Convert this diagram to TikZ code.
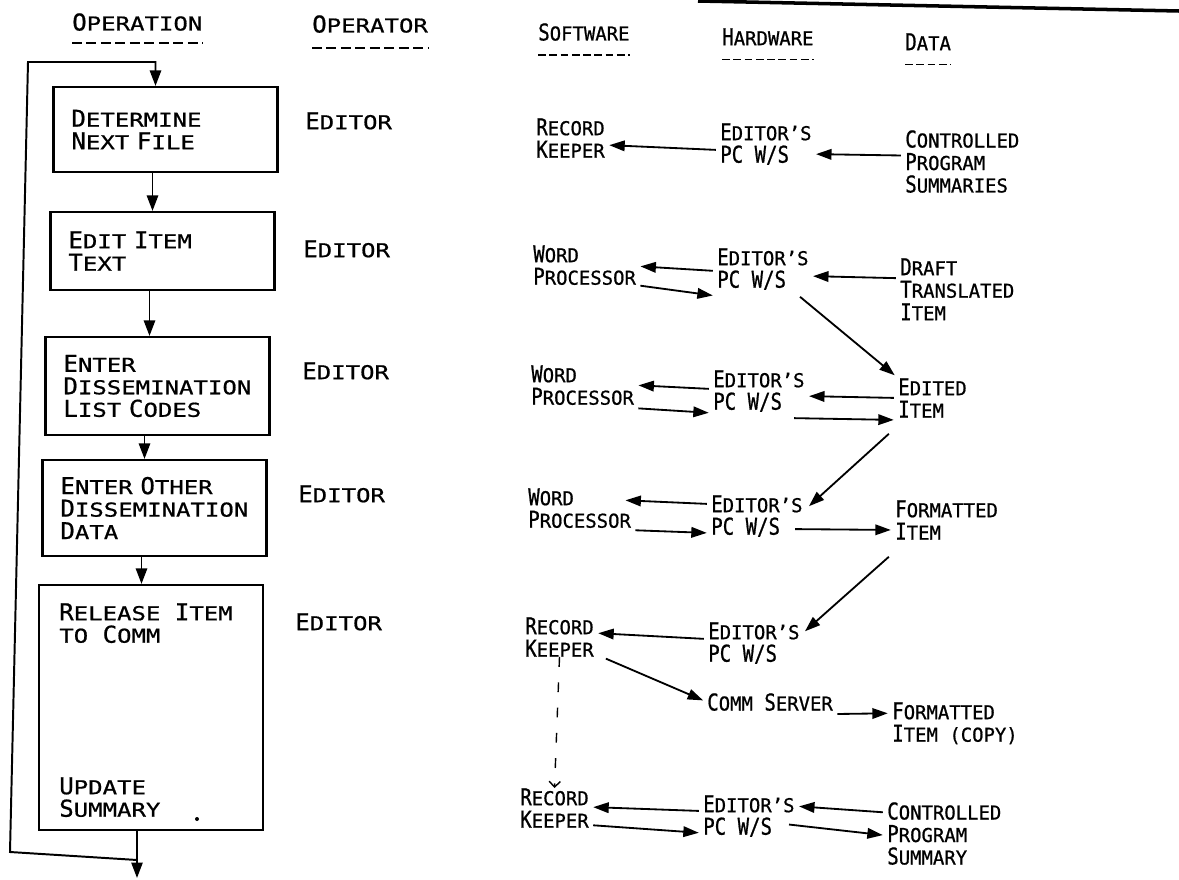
\documentclass[tikz,border=0pt]{standalone}
\usepackage{fontspec}
\setmainfont[FakeStretch=1.035,FakeBold=0.8]{DejaVu Sans Mono}
\newfontfamily\smallletters[FakeStretch=1.255,FakeBold=0.8]{DejaVu Sans Mono}
\newfontfamily\narrowcaps[FakeStretch=0.82,FakeBold=0.8]{DejaVu Sans Mono}
\newfontfamily\narrowsmall[FakeStretch=0.99,FakeBold=0.8]{DejaVu Sans Mono}
\let\smfont\smallletters
\newcommand\sm[1]{{\smfont\fontsize{13.6}{16}\selectfont #1}}
\usetikzlibrary{arrows.meta,positioning,calc}

\begin{document}
\begin{tikzpicture}[
      x=0.025cm, y=-0.025cm,
      font=\fontsize{16.5}{16}\selectfont,
      lbl/.style={anchor=north west, inner sep=0pt, align=left},
      rlbl/.style={lbl, font=\fontsize{16.5}{16}\narrowcaps\let\smfont\narrowsmall},
      opbox/.style={rectangle, draw, line width=1.5pt, align=left,
                    text width=4.7cm, inner xsep=0.45cm, inner ysep=0pt},
      arr/.style={-{Triangle[length=11pt,width=8pt]}, line width=1.4pt},
      flow/.style={-{Triangle[length=11pt,width=7.5pt]}, line width=1.3pt,
                   shorten <=3pt, shorten >=3pt},
      ul/.style={line width=1.3pt, dash pattern=on 7pt off 3.3pt},
      rul/.style={line width=1.3pt, dash pattern=on 5.6pt off 2.4pt},
      dsh/.style={-{Straight Barb[length=4pt,width=8pt]}, line width=1pt,
                  dash pattern=on 7pt off 11pt},
    ]
  \useasboundingbox (0,0) rectangle (1179,880);

  % column headings
  \node[lbl]  (hop)  at (72,13)  {O\sm{PERATION}};
  \node[lbl]  (hopr) at (312,15) {O\sm{PERATOR}};
  \node[rlbl] (hsw)  at (538,23) {S\sm{OFTWARE}};
  \node[rlbl] (hhw)  at (722,28) {H\sm{ARDWARE}};
  \node[rlbl] (hdat) at (905,33) {D\sm{ATA}};
  \draw[ul]  ($(hop.south west)+(0,12)$)  -- ($(hop.south east)+(0,12)$);
  \draw[ul]  ($(hopr.south west)+(0,15)$) -- ($(hopr.south east)+(0,15)$);
  \draw[rul] ($(hsw.south west)+(0,14)$)  -- ($(hsw.south east)+(0,14)$);
  \draw[rul] ($(hhw.south west)+(0,14)$)  -- ($(hhw.south east)+(0,14)$);
  \draw[rul] ($(hdat.south west)+(0,14)$) -- ($(hdat.south east)+(0,14)$);
  \draw[line width=2.5pt] (698,1) -- (1179,11);

  % operation boxes
  \node[opbox, minimum height=2.125cm] (b1) at (165.5,129.5)
       {D\sm{ETERMINE}\\N\sm{EXT} F\sm{ILE}};
  \node[opbox, minimum height=1.95cm]  (b2) at (162.5,251)
       {E\sm{DIT} I\sm{TEM}\\T\sm{EXT}};
  \node[opbox, minimum height=2.45cm]  (b3) at (157.5,386)
       {E\sm{NTER}\\D\sm{ISSEMINATION}\\L\sm{IST} C\sm{ODES}};
  \node[opbox, minimum height=2.4cm]   (b4) at (154.5,508)
       {E\sm{NTER} O\sm{THER}\\D\sm{ISSEMINATION}\\D\sm{ATA}};
  \node[opbox, minimum height=6.125cm] (b5) at (151,707.5) {};
  \node[lbl] (rel) at (59,603) {R\sm{ELEASE} I\sm{TEM}\\\sm{TO} C\sm{OMM}};
  \node[lbl] (upd) at (59,777) {U\sm{PDATE}\\S\sm{UMMARY}};
  \fill (197,819) circle (2);

  \coordinate (s1) at ($(b1.south)+(-13,0)$);
  \coordinate (s2) at ($(b2.south)+(-13,0)$);
  \coordinate (s3) at ($(b3.south)+(-13,0)$);
  \coordinate (s4) at ($(b4.south)+(-13,0)$);
  \coordinate (s5) at ($(b5.south)+(-14,0)$);
  \coordinate (out) at (137,878);
  \coordinate (ret) at (137,860);
  \draw[arr] (s1) -- (s1 |- b2.north);
  \draw[arr] (s2) -- (s2 |- b3.north);
  \draw[arr] (s3) -- (s3 |- b4.north);
  \draw[arr] (s4) -- (s4 |- b5.north);
  \draw[arr] (s5) -- (out);
  \draw[arr] (ret) -- (10,852) -- (28,62) -| ($(b1.north)+(-10,0)$);

  % operators
  \node[lbl] (op1) at (305,112) {E\sm{DITOR}};
  \node[lbl] (op2) at (303,240) {E\sm{DITOR}};
  \node[lbl] (op3) at (302,362) {E\sm{DITOR}};
  \node[lbl] (op4) at (298,485) {E\sm{DITOR}};
  \node[lbl] (op5) at (295,613) {E\sm{DITOR}};

  % software
  \node[rlbl] (sw1) at (536,118) {R\sm{ECORD}\\K\sm{EEPER}};
  \node[rlbl] (sw2) at (533,245) {W\sm{ORD}\\P\sm{ROCESSOR}};
  \node[rlbl] (sw3) at (531,365) {W\sm{ORD}\\P\sm{ROCESSOR}};
  \node[rlbl] (sw4) at (528,488) {W\sm{ORD}\\P\sm{ROCESSOR}};
  \node[rlbl] (sw5) at (525,617) {R\sm{ECORD}\\K\sm{EEPER}};
  \node[rlbl] (sw6) at (520,788) {R\sm{ECORD}\\K\sm{EEPER}};

  % hardware
  \node[rlbl] (hw1) at (720,123) {E\sm{DITOR’S}\\PC W/S};
  \node[rlbl] (hw2) at (717,248) {E\sm{DITOR’S}\\PC W/S};
  \node[rlbl] (hw3) at (713,370) {E\sm{DITOR’S}\\PC W/S};
  \node[rlbl] (hw4) at (711,495) {E\sm{DITOR’S}\\PC W/S};
  \node[rlbl] (hw5) at (708,622) {E\sm{DITOR’S}\\PC W/S};
  \node[rlbl] (cs)  at (707,693) {C\sm{OMM} S\sm{ERVER}};
  \node[rlbl] (hw6) at (703,795) {E\sm{DITOR’S}\\PC W/S};

  % data
  \node[rlbl] (d1) at (905,130) {C\sm{ONTROLLED}\\P\sm{ROGRAM}\\S\sm{UMMARIES}};
  \node[rlbl] (d2) at (900,258) {D\sm{RAFT}\\T\sm{RANSLATED}\\I\sm{TEM}};
  \node[rlbl] (d3) at (898,378) {E\sm{DITED}\\I\sm{TEM}};
  \node[rlbl] (d4) at (895,500) {F\sm{ORMATTED}\\I\sm{TEM}};
  \node[rlbl] (d5) at (892,702) {F\sm{ORMATTED}\\I\sm{TEM} \sm{(COPY)}};
  \node[rlbl] (d6) at (887,802) {C\sm{ONTROLLED}\\P\sm{ROGRAM}\\S\sm{UMMARY}};

  % data flows
  \draw[flow] ($(hw1.west)+(0,6)$)   -- ($(sw1.east)+(0,7)$);
  \draw[flow] ($(d1.west)+(0,-6)$)   -- ($(hw1.east)+(0,10)$);
  \draw[flow] ($(hw2.west)+(0,2)$)   -- ($(sw2.east)+(0,1)$);
  \draw[flow] ($(sw2.east)+(0,20)$)  -- ($(hw2.west)+(0,27)$);
  \draw[flow] ($(d2.west)+(0,-11)$)  -- ($(hw2.east)+(0,7)$);
  \draw[flow] ($(hw2.south east)+(-12,4)$) -- (d3.north west);
  \draw[flow] ($(hw3.west)+(0,-2)$)  -- (sw3.east);
  \draw[flow] ($(sw3.east)+(0,23)$)  -- ($(hw3.west)+(0,22)$);
  \draw[flow] (d3.west)              -- ($(hw3.east)+(0,5)$);
  \draw[flow] ($(hw3.east)+(-15,27)$) -- ($(d3.west)+(0,22)$);
  \draw[flow] ($(d3.south west)+(-6,13)$) -- ($(hw4.east)+(3,-7)$);
  \draw[flow] ($(hw4.west)+(0,-12)$) -- ($(sw4.east)+(-10,-8)$);
  \draw[flow] ($(sw4.east)+(0,22)$)  -- ($(hw4.west)+(0,17)$);
  \draw[flow] ($(hw4.east)+(-12,13)$) -- ($(d4.west)+(0,10)$);
  \draw[flow] ($(d4.south west)+(-3,14)$) -- ($(hw5.east)+(2,-9)$);
  \draw[flow] ($(hw5.west)+(0,-4)$)  -- ($(sw5.east)+(0,-4)$);
  \draw[flow] ($(sw5.south east)+(8,0)$) -- (cs.west);
  \draw[flow] ($(cs.east)+(0,12)$)   -- ($(d5.west)+(0,-10)$);
  \draw[dsh]  (sw5.south) -- (sw6.north);
  \draw[flow] ($(hw6.west)+(0,-5)$)  -- ($(sw6.east)+(0,-1)$);
  \draw[flow] ($(sw6.east)+(0,17)$)  -- ($(hw6.west)+(0,17)$);
  \draw[flow] ($(d6.west)+(0,-21)$)  -- ($(hw6.east)+(0,-10)$);
  \draw[flow] ($(hw6.east)+(-10,8)$) -- ($(d6.west)+(0,2)$);
\end{tikzpicture}
\end{document}
